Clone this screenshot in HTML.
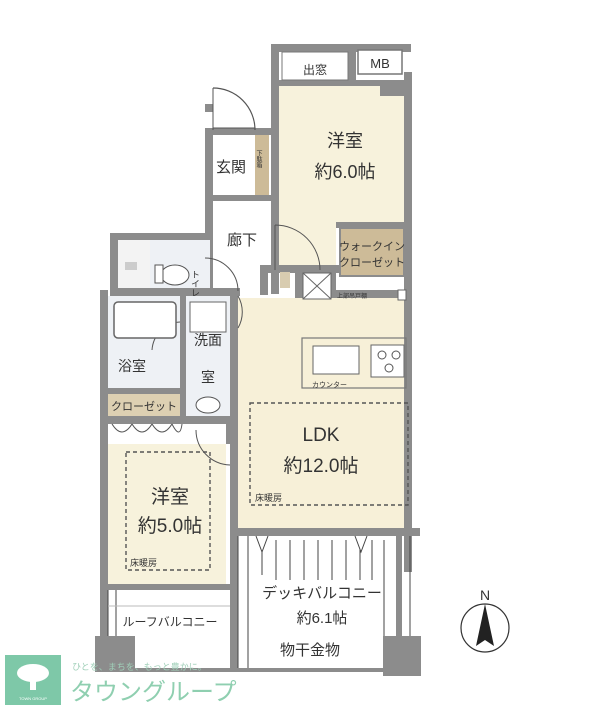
<!DOCTYPE html>
<html><head><meta charset="utf-8"><style>
html,body{margin:0;padding:0;background:#fff;width:600px;height:708px;overflow:hidden}
svg{display:block}
text{font-family:"Liberation Sans","Noto Sans CJK JP",sans-serif;fill:#333}
</style></head><body>
<svg width="600" height="708" viewBox="0 0 600 708" xmlns="http://www.w3.org/2000/svg">
<g fill="#8c8c8c">
<!-- top block outer walls -->
<rect x="271" y="44" width="140" height="8"/>
<rect x="271" y="44" width="8" height="250"/>
<rect x="404" y="72" width="8" height="500"/>
<rect x="348" y="44" width="8" height="38"/>
<rect x="279" y="80" width="130" height="6"/>
<rect x="380" y="80" width="28" height="16"/>
<!-- entry block -->
<rect x="205" y="128" width="8" height="170"/>
<rect x="205" y="128" width="70" height="7"/>
<rect x="205" y="195" width="70" height="6"/>
<rect x="205" y="104" width="8" height="8"/>
<!-- WIC walls -->
<rect x="330" y="222" width="80" height="6"/>
<rect x="330" y="222" width="6" height="70"/>
<rect x="260" y="265" width="150" height="8"/>
<rect x="260" y="265" width="8" height="30"/>
<rect x="295" y="265" width="8" height="38"/>
<rect x="295" y="290" width="115" height="8"/>
<!-- toilet block -->
<rect x="110" y="233" width="8" height="60"/>
<rect x="110" y="233" width="100" height="7"/>
<rect x="110" y="288" width="130" height="8"/>
<rect x="150" y="255" width="6" height="35"/>
<!-- bath / wash block -->
<rect x="100" y="290" width="8" height="380"/>
<rect x="180" y="296" width="6" height="140"/>
<rect x="230" y="296" width="8" height="374"/>
<rect x="108" y="388" width="75" height="6"/>
<rect x="108" y="416" width="130" height="8"/>
<rect x="186" y="380" width="44" height="5"/>
<!-- bedroom2 bottom -->
<rect x="100" y="584" width="138" height="6"/>
<rect x="226" y="424" width="12" height="20"/>
<!-- LDK bottom -->
<rect x="230" y="528" width="190" height="8"/>
<rect x="396" y="536" width="6" height="100"/>
<!-- bottom posts -->
<rect x="95" y="636" width="40" height="36"/>
<rect x="383" y="636" width="38" height="40"/>
<rect x="100" y="668" width="321" height="4"/>
</g>
<!-- floors -->
<path d="M279 86 H380 V96 H404 V222 H336 V265 H279 Z" fill="#f7f2dc"/>
<rect x="303" y="298" width="101" height="230" fill="#f7f0d8"/>
<rect x="238" y="298" width="65" height="230" fill="#f7f0d8"/>
<rect x="108" y="424" width="118" height="160" fill="#f7f2dc"/>
<rect x="108" y="424" width="118" height="20" fill="#fff"/>
<!-- light blue wet rooms -->
<rect x="108" y="296" width="72" height="92" fill="#eef1f5"/>
<rect x="186" y="296" width="44" height="120" fill="#eef1f5"/>
<rect x="118" y="240" width="92" height="48" fill="#eef1f5"/>
<rect x="118" y="240" width="32" height="48" fill="#f3f3f3"/>
<!-- brown storages -->
<rect x="255" y="135" width="14" height="60" fill="#cdbb98"/>
<rect x="340" y="228" width="64" height="48" fill="#cdbb98" stroke="#8c8c8c" stroke-width="2"/>
<rect x="108" y="394" width="72" height="22" fill="#ddd0b2"/>
<!-- top fixtures -->
<rect x="282" y="52" width="66" height="28" fill="#fff" stroke="#777" stroke-width="1"/>
<rect x="358" y="50" width="44" height="24" fill="#fff" stroke="#777" stroke-width="1.5"/>
<text x="315" y="74" font-size="12" text-anchor="middle">出窓</text>
<text x="380" y="68" font-size="13" text-anchor="middle">MB</text>
<!-- entry door arc -->
<path d="M213 88 A42 42 0 0 1 255 130" fill="none" stroke="#555" stroke-width="1.2"/>
<line x1="213" y1="88" x2="213" y2="130" stroke="#555"/>
<line x1="213" y1="128" x2="255" y2="128" stroke="#555"/>
<!-- door arcs -->
<path d="M275 225 A45 45 0 0 1 320 270" fill="none" stroke="#555"/>
<line x1="275" y1="225" x2="275" y2="270" stroke="#555"/>
<path d="M205 258 A33 33 0 0 1 238 291" fill="none" stroke="#555"/>
<path d="M238 296 A32 32 0 0 1 238 328" fill="none" stroke="#555"/>
<path d="M152 350 A30 30 0 0 1 180 322" fill="none" stroke="#555"/>
<path d="M196 430 A35 35 0 0 0 230 465" fill="none" stroke="#555"/>
<!-- closet arcs bedroom2 -->
<g fill="none" stroke="#555">
<path d="M112 424 Q122 440 132 424"/><path d="M132 424 Q142 440 152 424"/>
<path d="M152 424 Q162 440 172 424"/><path d="M172 424 Q180 440 182 424"/>
</g>
<!-- toilet -->
<ellipse cx="175" cy="275" rx="14" ry="10" fill="#fff" stroke="#555"/>
<rect x="155" y="265" width="8" height="18" fill="#fff" stroke="#555"/>
<rect x="125" y="262" width="12" height="8" fill="#ccc"/>
<text x="195" y="270" font-size="9" writing-mode="tb">トイレ</text>
<!-- bath tub -->
<rect x="114" y="302" width="62" height="36" rx="4" fill="#fff" stroke="#666" stroke-width="1.5"/>
<rect x="190" y="302" width="36" height="30" fill="#fff" stroke="#666"/>
<ellipse cx="208" cy="405" rx="12" ry="8" fill="#fff" stroke="#555"/>
<!-- kitchen -->
<rect x="302" y="338" width="104" height="50" fill="none" stroke="#777" stroke-width="1.2"/>
<rect x="313" y="346" width="46" height="28" fill="#fff" stroke="#666"/>
<rect x="371" y="345" width="33" height="32" fill="#fff" stroke="#666"/>
<circle cx="382" cy="355" r="4" fill="none" stroke="#555"/><circle cx="396" cy="355" r="4" fill="none" stroke="#555"/><circle cx="389" cy="368" r="4" fill="none" stroke="#555"/>
<text x="312" y="387" font-size="7">カウンター</text>
<!-- fridge box -->
<rect x="303" y="273" width="28" height="26" fill="#fff" stroke="#666"/>
<line x1="303" y1="273" x2="331" y2="299" stroke="#666"/><line x1="331" y1="273" x2="303" y2="299" stroke="#666"/>
<text x="337" y="298" font-size="6">上部吊戸棚</text>
<rect x="398" y="290" width="8" height="10" fill="#fff" stroke="#666"/>
<rect x="280" y="272" width="10" height="16" fill="#d8ccb0"/>
<!-- dashed areas -->
<rect x="250" y="403" width="158" height="102" fill="none" stroke="#555" stroke-width="1.4" stroke-dasharray="4,3"/>
<rect x="126" y="452" width="84" height="118" fill="none" stroke="#555" stroke-width="1.4" stroke-dasharray="4,3"/>
<!-- deck lines -->
<g stroke="#444" stroke-width="1">
<line x1="238" y1="536" x2="238" y2="668"/>
<line x1="248" y1="536" x2="248" y2="668"/>
<line x1="262" y1="540" x2="262" y2="575"/>
<line x1="276" y1="540" x2="276" y2="580"/>
<line x1="290" y1="540" x2="290" y2="580"/>
<line x1="304" y1="540" x2="304" y2="580"/>
<line x1="318" y1="540" x2="318" y2="580"/>
<line x1="332" y1="540" x2="332" y2="580"/>
<line x1="346" y1="540" x2="346" y2="580"/>
<line x1="360" y1="540" x2="360" y2="580"/>
<line x1="372" y1="540" x2="372" y2="580"/>
<line x1="384" y1="540" x2="384" y2="636"/>
<line x1="410" y1="536" x2="410" y2="636"/>
<line x1="108" y1="590" x2="108" y2="636"/>
<line x1="116" y1="590" x2="116" y2="636"/>
<line x1="108" y1="606" x2="230" y2="606" stroke="#bbb"/>
</g>
<path d="M256 536 L262 552 L268 536 M355 536 L361 552 L367 536" fill="#fff" stroke="#444"/>
<!-- labels -->
<text x="345" y="147" font-size="18" text-anchor="middle">洋室</text>
<text x="345" y="178" font-size="18" text-anchor="middle">約6.0帖</text>
<text x="231" y="172" font-size="15" text-anchor="middle">玄関</text>
<text x="258" y="150" font-size="6" writing-mode="tb">下駄箱</text>
<text x="242" y="245" font-size="15" text-anchor="middle">廊下</text>
<text x="372" y="250" font-size="11" text-anchor="middle">ウォークイン</text>
<text x="372" y="266" font-size="11" text-anchor="middle">クローゼット</text>
<text x="132" y="371" font-size="14" text-anchor="middle">浴室</text>
<text x="208" y="345" font-size="14" text-anchor="middle">洗面</text>
<text x="208" y="382" font-size="14" text-anchor="middle">室</text>
<text x="144" y="410" font-size="11" text-anchor="middle">クローゼット</text>
<text x="321" y="441" font-size="19" text-anchor="middle">LDK</text>
<text x="321" y="472" font-size="19" text-anchor="middle">約12.0帖</text>
<text x="255" y="501" font-size="9">床暖房</text>
<text x="170" y="503" font-size="19" text-anchor="middle">洋室</text>
<text x="170" y="532" font-size="19" text-anchor="middle">約5.0帖</text>
<text x="130" y="566" font-size="9">床暖房</text>
<text x="322" y="598" font-size="15" text-anchor="middle">デッキバルコニー</text>
<text x="322" y="623" font-size="15" text-anchor="middle">約6.1帖</text>
<text x="310" y="655" font-size="15" text-anchor="middle">物干金物</text>
<text x="170" y="626" font-size="12" text-anchor="middle">ルーフバルコニー</text>
<!-- compass -->
<circle cx="485" cy="628" r="24" fill="none" stroke="#333" stroke-width="1.2"/>
<path d="M485 604 L476 646 L485 640 L494 646 Z" fill="#222"/>
<text x="485" y="600" font-size="14" text-anchor="middle">N</text>
<!-- logo -->
<rect x="5" y="655" width="56" height="50" fill="#7ec8a8"/>
<ellipse cx="33" cy="673" rx="16" ry="9" fill="#fff"/>
<rect x="30" y="678" width="6" height="12" fill="#fff"/>
<text x="33" y="700" font-size="4" text-anchor="middle" style="fill:#fff">TOWN GROUP</text>
<text x="72" y="670" font-size="9" style="fill:#9fcfb8">ひとを、まちを、もっと豊かに。</text>
<text x="70" y="700" font-size="24" style="fill:#8fcfb0">タウングループ</text>
</svg>
</body></html>
